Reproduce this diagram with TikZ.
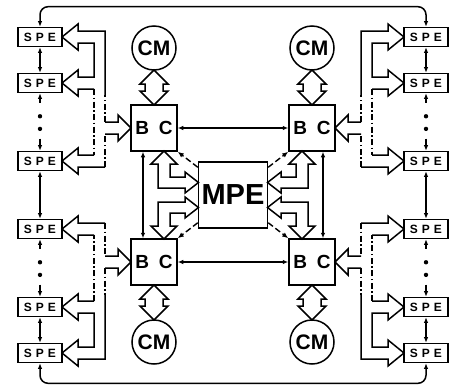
\documentclass[tikz,border=0pt]{standalone}
\usepackage{fontspec}
\setmainfont{Liberation Sans}
\usetikzlibrary{arrows.meta,calc}

\tikzset{
  >={Latex[length=5.5pt,width=4.5pt]},
  spebox/.style={draw, line width=1.6pt, minimum width=44pt, minimum height=19pt, inner sep=0pt, font=\fontsize{12}{13}\selectfont\bfseries},
  bcbox/.style={draw, line width=1.5pt, minimum size=46pt, inner sep=0pt, font=\fontsize{19}{21}\selectfont\bfseries},
  membox/.style={draw, circle, line width=1.5pt, minimum size=44pt, inner sep=0pt, font=\fontsize{21}{24}\selectfont\bfseries},
  mpebox/.style={draw, line width=1.5pt, minimum width=69pt, minimum height=66pt, inner sep=0pt, font=\fontsize{29}{32}\selectfont\bfseries},
  link/.style={line width=1.2pt},
  hollow/.style={line width=1.5pt, line join=miter},
  busgap/.style={dash pattern=on 6pt off 2.5pt on 1.5pt off 2.5pt},
  ctrl/.style={line width=1.4pt, dash pattern=on 6pt off 3pt, -{Latex[length=6pt,width=5pt]}}
}

\begin{document}
\begin{tikzpicture}[x=1pt, y=-1pt]
\useasboundingbox (0,0) rectangle (458,389);

% SPE modules, left and right column
\foreach \n/\y in {1/37, 2/83, 3/161, 4/229, 5/307, 6/353} {
  \node[spebox] (sl\n) at (40,\y) {S\kern4pt P\kern4pt E};
  \node[spebox] (sr\n) at (426,\y) {S\kern4pt P\kern4pt E};
}

% bus controllers and their memories
\node[bcbox] (bc1) at (154,128) {B\hspace{10pt}C};
\node[bcbox] (bc2) at (312,128) {B\hspace{10pt}C};
\node[bcbox] (bc3) at (154,262) {B\hspace{10pt}C};
\node[bcbox] (bc4) at (312,262) {B\hspace{10pt}C};
\node[membox] (cm1) at (154,48) {CM};
\node[membox] (cm2) at (312,48) {CM};
\node[membox] (cm3) at (154,342) {CM};
\node[membox] (cm4) at (312,342) {CM};

\node[mpebox] (mpe) at (233,195) {MPE};

% ring lines over the top and under the bottom
\draw[link, line width=1.5pt, <->, rounded corners=8pt] (sl1.north) -- ++(0,-20) -| (sr1.north);
\draw[link, line width=1.5pt, <->, rounded corners=8pt] (sl6.south) -- ++(0,20) -| (sr6.south);

% links along each column
\foreach \s in {sl,sr} {
  \draw[link, <->] (\s1.south) -- (\s2.north);
  \draw[link, <->] (\s3.south) -- (\s4.north);
  \draw[link, <->] (\s5.south) -- (\s6.north);
  \foreach \a/\b in {2/3, 4/5} {
    \draw[link, <-] (\s\a.south) -- ++(0,10);
    \draw[link, ->] ($(\s\b.north)+(0,-12)$) -- (\s\b.north);
    \fill ($(\s\a.south)!0.4!(\s\b.north)$) circle (2.2);
    \fill ($(\s\a.south)!0.62!(\s\b.north)$) circle (2.2);
  }
}

% links between the bus controllers
\draw[link, <->] (bc1.east) -- (bc2.west);
\draw[link, <->] (bc3.east) -- (bc4.west);
\draw[link, <->] ([xshift=-11pt]bc1.south) -- ([xshift=-11pt]bc3.north);
\draw[link, <->] ([xshift=11pt]bc2.south) -- ([xshift=11pt]bc4.north);

% control lines from MPE
\draw[ctrl] ([yshift=-6pt]mpe.north west) -- (bc1.south east);
\draw[ctrl] ([yshift=-6pt]mpe.north east) -- (bc2.south west);
\draw[ctrl] ([yshift=6pt]mpe.south west) -- (bc3.north east);
\draw[ctrl] ([yshift=6pt]mpe.south east) -- (bc4.north west);

% hollow buses, one quarter mirrored four times
\foreach \sx/\sy in {1/1, -1/1, 1/-1, -1/-1} {
\begin{scope}[shift={(233,195)}, xscale=\sx, yscale=\sy]
  % CM <-> BC
  \draw[hollow] (-79,-125) -- (-93,-111) -- (-88,-111) -- (-88,-104) -- (-93,-104)
    -- (-79,-90) -- (-65,-104) -- (-70,-104) -- (-70,-111) -- (-65,-111) -- cycle;
  % BC <-> MPE
  \draw[hollow] (-69,-44) -- (-56,-31) -- (-63,-31) -- (-63,-18) -- (-48,-18)
    -- (-48,-23) -- (-34.5,-12.5) -- (-48,-2) -- (-48,-7) -- (-75,-7)
    -- (-75,-31) -- (-82,-31) -- cycle;
  % SPEs <-> BC
  \draw[hollow] (-128,-100) -- (-128,-164) -- (-155,-164) -- (-155,-171) -- (-171,-158)
    -- (-155,-145) -- (-155,-152) -- (-139,-152) -- (-139,-118) -- (-155,-118)
    -- (-155,-125) -- (-171,-112) -- (-155,-99) -- (-155,-106) -- (-139,-106);
  \draw[hollow, busgap] (-139,-106) -- (-139,-40);
  \draw[hollow] (-139,-40) -- (-155,-40) -- (-155,-47) -- (-171,-34) -- (-155,-21)
    -- (-155,-28) -- (-128,-28);
  \draw[hollow, busgap] (-128,-28) -- (-128,-61);
  \draw[hollow] (-128,-61) -- (-115,-61) -- (-115,-54) -- (-102,-67) -- (-115,-80)
    -- (-115,-73) -- (-128,-73);
  \draw[hollow, busgap] (-128,-73) -- (-128,-100);
\end{scope}
}
\end{tikzpicture}
\end{document}
